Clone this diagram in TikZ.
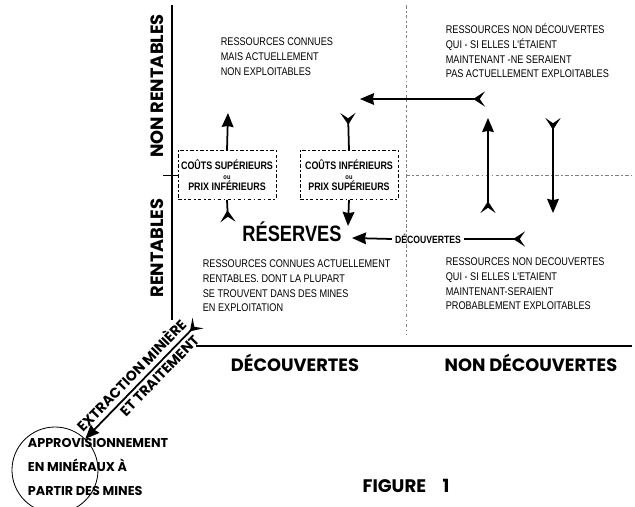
\documentclass[tikz,border=0pt]{standalone}
\usepackage{fontspec}
\setmainfont{Liberation Sans}
\newfontfamily\condfont[FakeStretch=0.82]{Liberation Sans}
\newfontfamily\futfont{Poppins}
\usetikzlibrary{arrows.meta,positioning}
\tikzset{fl/.tip={Stealth[reversed,length=10pt,width=13pt,inset=4.5pt]},
  hd/.tip={Stealth[length=12pt,width=10pt,inset=1pt]}}

\begin{document}
\begin{tikzpicture}[x=0.03cm,y=-0.03cm,line width=1.5pt]
	\tikzstyle{cond}=[inner sep=0pt,align=left,font=\condfont\fontsize{9.5}{12.6}\selectfont]
	\tikzstyle{big}=[inner sep=0pt,font=\futfont\bfseries\fontsize{15.2}{16}\selectfont]
	\tikzstyle{slant}=[font=\futfont\bfseries\fontsize{12}{13}\selectfont,inner sep=0pt]
	\tikzstyle{cost}=[draw,dash dot,line width=0.5pt,minimum width=2.94cm,minimum height=1.47cm,align=center,inner sep=0pt,font=\condfont\bfseries\fontsize{9.3}{9}\selectfont]
	\useasboundingbox (0,0) rectangle (635,507);

	% axes and grid
	\draw[line width=1.2pt] (172,5) -- (172,320);
	\draw[line width=1.2pt] (196,346) -- (632,346);
	\draw[line width=0.8pt] (163,175) -- (178,175);
	\draw[dash dot,line width=0.4pt,gray] (406,5) -- (406,335);
	\draw[dash dot,line width=0.4pt,gray] (406,175) -- (632,175);

	\node[big,rotate=90] (nr) at (157,86) {NON RENTABLES};
	\node[big,rotate=90] (r) at (157,248) {RENTABLES};
	\node[big] (dc) at (295,363) {DÉCOUVERTES};
	\node[big] (ndc) at (531,363) {NON DÉCOUVERTES};
	\node[big,font=\futfont\bfseries\fontsize{15.5}{16}\selectfont] (fig) at (406,486) {FIGURE\hspace{14pt}1};

	% texts of the four fields
	\node[cond,anchor=north west] (t1) at (220,37) {RESSOURCES CONNUES\\MAIS ACTUELLEMENT\\NON EXPLOITABLES};
	\node[cond,anchor=north west] (t2) at (445,23) {RESSOURCES NON DÉCOUVERTES\\QUI - SI ELLES L'ÉTAIENT\\MAINTENANT -NE SERAIENT\\ PAS ACTUELLEMENT EXPLOITABLES};
	\node[cond,anchor=north west] (t3) at (202,259) {RESSOURCES CONNUES ACTUELLEMENT\\RENTABLES. DONT LA PLUPART\\SE TROUVENT DANS DES MINES\\EN EXPLOITATION};
	\node[cond,anchor=north west] (t4) at (445,257) {RESSOURCES NON DECOUVERTES\\QUI - SI ELLES L'ETAIENT\\MAINTENANT-SERAIENT\\ PROBABLEMENT EXPLOITABLES};

	\node[cost] (csup) at (227,175) {COÛTS SUPÉRIEURS\\{\fontsize{6}{6}\selectfont ou}\\PRIX INFÉRIEURS};
	\node[cost] (cinf) at (349,175) {COÛTS INFÉRIEURS\\{\fontsize{6}{6}\selectfont ou}\\PRIX SUPÉRIEURS};
	\node[inner sep=0pt,font=\condfont\bfseries\fontsize{19}{20}\selectfont] (res) at (292,232) {RÉSERVES};
	\node[inner sep=2pt,font=\condfont\bfseries\fontsize{9}{10}\selectfont] (dec) at (428,239) {DÉCOUVERTES};

	% arrows
	\coordinate (a1) at (228,222);
	\coordinate (b1) at (228,113);
	\coordinate (a2) at (348,113);
	\coordinate (b2) at (348,226);
	\coordinate (a3) at (485,99);
	\coordinate (b3) at (360,99);
	\coordinate (a4) at (488,213);
	\coordinate (b4) at (488,118);
	\coordinate (a5) at (553,118);
	\coordinate (b5) at (553,213);
	\coordinate (a6) at (525,239);
	\coordinate (b6) at (352,238);
	\draw[fl-] (a1) -- (csup.south);
	\draw[-hd] (csup.north) -- (b1);
	\draw[fl-] (a2) -- (cinf.north);
	\draw[-hd] (cinf.south) -- (b2);
	\draw[fl-hd] (a3) -- (b3);
	\draw[fl-hd] (a4) -- (b4);
	\draw[fl-hd] (a5) -- (b5);
	\draw[fl-] (a6) -- (dec.east);
	\draw[-hd] (dec.west) -- (b6);

	% supply from the mines
	\node[circle,draw,line width=0.7pt,minimum size=2.58cm] (m) at (55,470) {};
	\node[inner sep=0pt,anchor=west,align=left,font=\futfont\bfseries\fontsize{10.9}{20.5}\selectfont] (ap) at (27,467) {APPROVISIONNEMENT\\EN MINÉRAUX À\\PARTIR DES MINES};
	\coordinate (ex) at (198,323);
	\draw[fl-hd] (ex) -- (m)
		node[slant,pos=0.52,sloped,above=4pt] {EXTRACTION MINIÈRE}
		node[slant,pos=0.40,sloped,below=3pt] {ET TRAITEMENT};
\end{tikzpicture}
\end{document}
